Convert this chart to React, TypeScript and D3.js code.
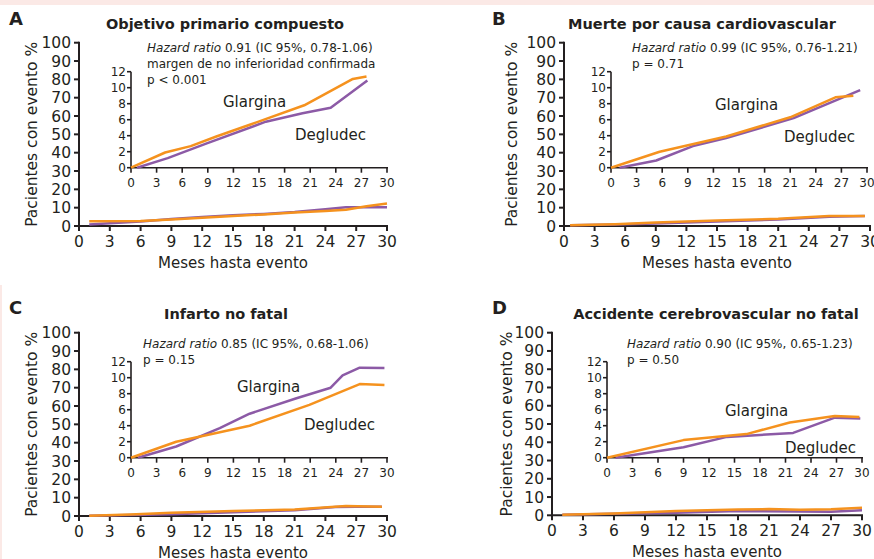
import React from "react";
import * as d3 from "d3";

type Pt = [number, number];

// ---------- data ----------
const mainYTicks = [0, 10, 20, 30, 40, 50, 60, 70, 80, 90, 100];
const insetYTicks = [0, 2, 4, 6, 8, 10, 12];
const monthTicks = [0, 3, 6, 9, 12, 15, 18, 21, 24, 27, 30];

const panelLetters = ["A", "B", "C", "D"];
const panelTitles = [
  "Objetivo primario compuesto",
  "Muerte por causa cardiovascular",
  "Infarto no fatal",
  "Accidente cerebrovascular no fatal",
];
const hazardTexts = [
  " 0.91 (IC 95%, 0.78-1.06)",
  " 0.99 (IC 95%, 0.76-1.21)",
  " 0.85 (IC 95%, 0.68-1.06)",
  " 0.90 (IC 95%, 0.65-1.23)",
];
const extraLines: string[][] = [
  ["margen de no inferioridad confirmada", "p < 0.001"],
  ["p = 0.71"],
  ["p = 0.15"],
  ["p = 0.50"],
];

const mainOrangeA: Pt[] = [[1, 2.6], [6, 2.7], [9, 3.6], [12, 4.5], [15, 5.5], [18, 6.3], [21, 7.3], [24, 8.2], [26, 8.9], [28, 10.8], [30, 12.3]];
const mainPurpleA: Pt[] = [[1, 0.8], [3, 1.5], [6, 2.4], [9, 3.8], [12, 4.9], [15, 5.8], [18, 6.6], [21, 7.6], [24, 9.1], [26, 10.2], [30, 10.2]];
const insetOrangeA: Pt[] = [[0, 0], [4, 1.9], [7, 2.7], [10, 3.9], [14, 5.4], [20.3, 7.8], [26, 11.1], [27.6, 11.4]];
const insetPurpleA: Pt[] = [[0.7, 0], [4.3, 1.2], [8.8, 3.0], [15.8, 5.75], [20.1, 6.8], [23.4, 7.5], [27.7, 10.9]];

const mainOrangeB: Pt[] = [[0.6, 0.4], [5, 1], [9, 1.9], [15, 3], [21, 3.9], [26, 5.4], [29.5, 5.4]];
const mainPurpleB: Pt[] = [[0.6, 0.4], [5, 0.8], [9, 1.4], [15, 2.4], [21, 3.5], [26, 5.1], [29.5, 5.5]];
const insetOrangeB: Pt[] = [[0, 0], [5.7, 2.0], [13.5, 3.9], [21, 6.3], [26.3, 8.8], [28.4, 9.0]];
const insetPurpleB: Pt[] = [[1, 0], [5.3, 0.9], [9.6, 2.7], [13.5, 3.7], [21.4, 6.2], [29.2, 9.7]];

const mainOrangeC: Pt[] = [[1, 0.2], [5, 0.8], [9, 1.8], [15, 2.7], [21, 3.6], [26, 5.4], [29.5, 5.1]];
const mainPurpleC: Pt[] = [[1, 0.2], [5, 0.5], [9, 1], [15, 2], [21, 3.2], [25, 4.9], [27, 5.1], [29.5, 5.1]];
const insetOrangeC: Pt[] = [[0, 0], [5.3, 2.0], [13.9, 4.0], [20.9, 6.6], [26.8, 9.2], [29.7, 9.1]];
const insetPurpleC: Pt[] = [[0.8, 0], [5.3, 1.4], [10.4, 3.7], [13.9, 5.5], [19.3, 7.4], [23.4, 8.75], [24.8, 10.3], [26.8, 11.25], [29.7, 11.2]];

const mainOrangeD: Pt[] = [[1, 0.3], [6, 1], [12, 2.3], [18, 3.2], [21, 3.4], [24, 3.1], [27, 3.3], [30, 4.2]];
const mainPurpleD: Pt[] = [[1, 0.3], [6, 0.8], [12, 1.4], [18, 2.3], [24, 2.1], [27, 2.0], [30, 2.8]];
const insetOrangeD: Pt[] = [[0, 0], [9, 2.2], [16.4, 2.95], [21.5, 4.4], [26.8, 5.2], [29.7, 5.1]];
const insetPurpleD: Pt[] = [[1, 0], [9, 1.3], [14.1, 2.6], [21.9, 3.1], [26.8, 5.0], [29.8, 4.9]];

const seriesLabels = ["Glargina", "Degludec"];

// ---------- layout / style ----------
const ORANGE = "#f5921e";
const PURPLE = "#8c5aa6";
const FONT = "'DejaVu Sans', sans-serif";

interface Layout {
  mx0: number; mx1: number; my0: number; my1: number;
  ix0: number; ix1: number; iy0: number; iy1: number;
  letterX: number; letterY: number; titleX: number; titleY: number;
  annX: number; annY: number; ylabX: number;
  glX: number; glY: number; dgX: number; dgY: number;
}

const layouts: Layout[] = [
  { mx0: 79, mx1: 387, my0: 226, my1: 42.7, ix0: 131, ix1: 387, iy0: 167.7, iy1: 71.7, letterX: 9, letterY: 25, titleX: 225, titleY: 29, annX: 147, annY: 52, ylabX: 37, glX: 223, glY: 107, dgX: 295, dgY: 140 },
  { mx0: 564, mx1: 870, my0: 226, my1: 42.7, ix0: 611, ix1: 867, iy0: 167.7, iy1: 71.7, letterX: 492, letterY: 25, titleX: 702, titleY: 29, annX: 632, annY: 52, ylabX: 517, glX: 715, glY: 110, dgX: 784, dgY: 142 },
  { mx0: 79, mx1: 387, my0: 516, my1: 332.7, ix0: 131, ix1: 387, iy0: 457.7, iy1: 361.7, letterX: 9, letterY: 314, titleX: 226, titleY: 319, annX: 143, annY: 348, ylabX: 37, glX: 237, glY: 392, dgX: 304, dgY: 430 },
  { mx0: 552, mx1: 862, my0: 515.3, my1: 332.7, ix0: 607, ix1: 862, iy0: 457.7, iy1: 361.7, letterX: 492, letterY: 314, titleX: 716, titleY: 319, annX: 627, annY: 348, ylabX: 512, glX: 725, glY: 416, dgX: 785, dgY: 453 },
];

const panelSeries = [
  { mo: mainOrangeA, mp: mainPurpleA, io: insetOrangeA, ip: insetPurpleA },
  { mo: mainOrangeB, mp: mainPurpleB, io: insetOrangeB, ip: insetPurpleB },
  { mo: mainOrangeC, mp: mainPurpleC, io: insetOrangeC, ip: insetPurpleC },
  { mo: mainOrangeD, mp: mainPurpleD, io: insetOrangeD, ip: insetPurpleD },
];

function Panel({ i }: { i: number }) {
  const L = layouts[i];
  const S = panelSeries[i];
  const mx = d3.scaleLinear().domain([0, 30]).range([L.mx0, L.mx1]);
  const my = d3.scaleLinear().domain([0, 100]).range([L.my0, L.my1]);
  const ix = d3.scaleLinear().domain([0, 30]).range([L.ix0, L.ix1]);
  const iy = d3.scaleLinear().domain([0, 12]).range([L.iy0, L.iy1]);
  const mLine = d3.line<Pt>().x((d) => mx(d[0])).y((d) => my(d[1]));
  const iLine = d3.line<Pt>().x((d) => ix(d[0])).y((d) => iy(d[1]));
  const ycenter = (L.my0 + L.my1) / 2;

  return (
    <g fontFamily={FONT} fill="#231f20">
      <text x={L.letterX} y={L.letterY} fontSize={18} fontWeight="bold">{panelLetters[i]}</text>
      <text x={L.titleX} y={L.titleY} fontSize={14.5} fontWeight="bold" textAnchor="middle">{panelTitles[i]}</text>

      {/* main axes */}
      <line x1={L.mx0} x2={L.mx0} y1={L.my0 + 1} y2={L.my1 - 1} stroke="#231f20" strokeWidth={2} />
      <line x1={L.mx0 - 1} x2={L.mx1 + 1} y1={L.my0} y2={L.my0} stroke="#231f20" strokeWidth={2} />
      {mainYTicks.map((t) => (
        <g key={"my" + t}>
          <line x1={L.mx0 - 5} x2={L.mx0} y1={my(t)} y2={my(t)} stroke="#231f20" strokeWidth={2} />
          <text x={L.mx0 - 8} y={my(t) + 5.5} fontSize={15.5} textAnchor="end">{t}</text>
        </g>
      ))}
      {monthTicks.map((t) => (
        <g key={"mx" + t}>
          <line x1={mx(t)} x2={mx(t)} y1={L.my0} y2={L.my0 + 5} stroke="#231f20" strokeWidth={2} />
          <text x={mx(t)} y={L.my0 + 21} fontSize={15.5} textAnchor="middle">{t}</text>
        </g>
      ))}
      <text x={(L.mx0 + L.mx1) / 2} y={L.my0 + 42} fontSize={15} textAnchor="middle">Meses hasta evento</text>
      <text transform={`translate(${L.ylabX},${ycenter}) rotate(-90)`} fontSize={15.5} textAnchor="middle">Pacientes con evento %</text>

      {/* inset axes */}
      <line x1={L.ix0} x2={L.ix0} y1={L.iy0 + 1} y2={L.iy1} stroke="#231f20" strokeWidth={1.6} />
      <line x1={L.ix0 - 1} x2={L.ix1 + 1} y1={L.iy0} y2={L.iy0} stroke="#231f20" strokeWidth={1.6} />
      {insetYTicks.map((t) => (
        <g key={"iy" + t}>
          <line x1={L.ix0 - 4} x2={L.ix0} y1={iy(t)} y2={iy(t)} stroke="#231f20" strokeWidth={1.6} />
          <text x={L.ix0 - 5} y={iy(t) + 4.5} fontSize={12} textAnchor="end">{t}</text>
        </g>
      ))}
      {monthTicks.map((t) => (
        <g key={"ix" + t}>
          <line x1={ix(t)} x2={ix(t)} y1={L.iy0} y2={L.iy0 + 5} stroke="#231f20" strokeWidth={1.6} />
          <text x={ix(t)} y={L.iy0 + 19} fontSize={12} textAnchor="middle">{t}</text>
        </g>
      ))}

      {/* annotation */}
      <text x={L.annX} y={L.annY} fontSize={12}>
        <tspan fontStyle="italic">Hazard ratio</tspan>
        <tspan>{hazardTexts[i]}</tspan>
      </text>
      {extraLines[i].map((s, k) => (
        <text key={k} x={L.annX} y={L.annY + 15.5 * (k + 1) + (k > 0 ? 1 : 0)} fontSize={12}>{s}</text>
      ))}

      <text x={L.glX} y={L.glY} fontSize={15}>{seriesLabels[0]}</text>
      <text x={L.dgX} y={L.dgY} fontSize={15}>{seriesLabels[1]}</text>

      {/* lines */}
      <path d={iLine(S.ip) || ""} fill="none" stroke={PURPLE} strokeWidth={2.5} strokeLinejoin="round" />
      <path d={iLine(S.io) || ""} fill="none" stroke={ORANGE} strokeWidth={2.5} strokeLinejoin="round" />
      <path d={mLine(S.mp) || ""} fill="none" stroke={PURPLE} strokeWidth={2.5} strokeLinejoin="round" />
      <path d={mLine(S.mo) || ""} fill="none" stroke={ORANGE} strokeWidth={2.5} strokeLinejoin="round" />
    </g>
  );
}

export default function App() {
  return (
    <svg width={874} height={559} style={{ position: "absolute", left: 0, top: 0, background: "#fff" }}>
      <rect x={0} y={0} width={874} height={559} fill="#fff" />
      <rect x={0} y={0} width={874} height={5} fill="#fbe9e6" />
      <rect x={0} y={285} width={2} height={274} fill="#fbe9e6" />
      {[0, 1, 2, 3].map((i) => <Panel key={i} i={i} />)}
    </svg>
  );
}
